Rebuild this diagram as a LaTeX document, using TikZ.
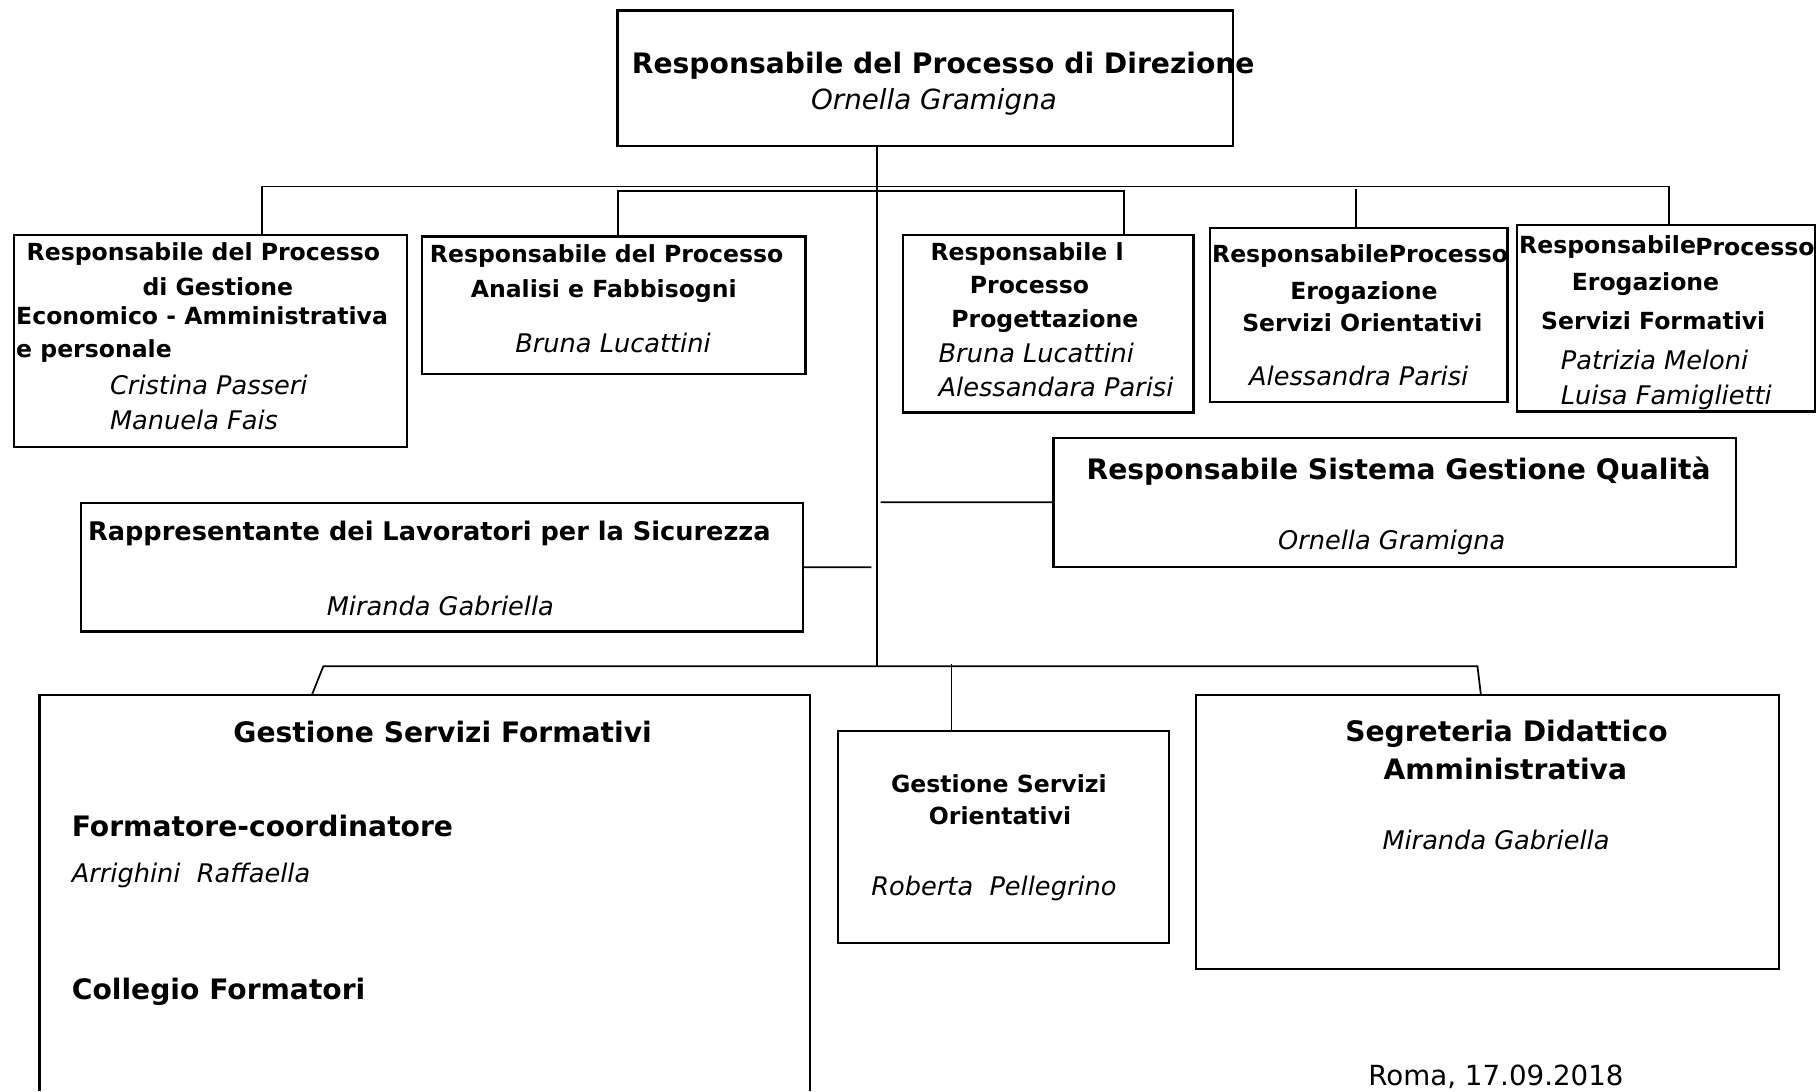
\documentclass[tikz,border=0pt]{standalone}
\usepackage{fontspec}
\setmainfont{DejaVu Sans}
\begin{document}
\begin{tikzpicture}[x=0.5bp,y=-0.5bp,
  box/.style={draw,line width=1bp,rectangle,inner sep=0pt,outer sep=0pt,anchor=north west},
  openbox/.style={rectangle,inner sep=0pt,outer sep=0pt,anchor=north west},
  conn/.style={line width=0.75bp},
  txt/.style={inner sep=0pt,outer sep=0pt,yshift=-1bp},
  sb/.style={txt,font=\fontsize{10.2}{12}\selectfont\bfseries},
  si/.style={txt,font=\fontsize{11.1}{13}\selectfont\itshape},
  mb/.style={txt,font=\fontsize{11.1}{13}\selectfont\bfseries},
  lb/.style={txt,font=\fontsize{12.2}{14}\selectfont\bfseries},
  li/.style={txt,font=\fontsize{12}{14}\selectfont\itshape},
  lr/.style={txt,font=\fontsize{12}{14}\selectfont}
]
\useasboundingbox (0,0) rectangle (1568,941.5);

% boxes
\node[box,minimum width=265.5bp,minimum height=58.5bp] (top) at (533,9) {};
\node[box,minimum width=169.5bp,minimum height=91.5bp] (b1) at (12,203) {};
\node[box,minimum width=165.5bp,minimum height=59.5bp] (b2) at (364,204) {};
\node[box,minimum width=125.5bp,minimum height=76.5bp] (b3) at (779,203) {};
\node[box,minimum width=128.5bp,minimum height=75bp] (b4) at (1044,197) {};
\node[box,minimum width=128.5bp,minimum height=80.5bp] (b5) at (1309,194) {};
\node[box,minimum width=294.5bp,minimum height=55.5bp] (q) at (909,378) {};
\node[box,minimum width=311.5bp,minimum height=55.5bp] (r) at (70,434) {};
\node[openbox,minimum width=332.5bp,minimum height=170.75bp] (gsf) at (34,600) {};
\draw[line width=1bp] (gsf.south west) -- (gsf.north west) -- (gsf.north east) -- (gsf.south east);
\node[box,minimum width=143bp,minimum height=91.5bp] (gso) at (723,631) {};
\node[box,minimum width=251.5bp,minimum height=118bp] (sda) at (1032,600) {};

% connection points
\coordinate (jb) at (757,575);
\coordinate (bus1L) at (226,161);
\coordinate (bus1R) at (1440,161);
\coordinate (bus1M) at (1170,163);
\coordinate (bus2L) at (533,165);
\coordinate (bus2R) at (970,165);
\coordinate (qj) at (760,433.5);
\coordinate (rj) at (752,489.5);
\coordinate (bL) at (279,575);
\coordinate (bR) at (1275,575);
\coordinate (bM) at (821,573);

% connectors
\draw[conn] (top.south -| jb) -- (jb);
\draw[conn] (b1.north -| bus1L) -- (bus1L) -- (bus1R) -- (b5.north -| bus1R);
\draw[conn] (bus1M) -- (b4.north -| bus1M);
\draw[conn] (b2.north -| bus2L) -- (bus2L) -- (bus2R) -- (b3.north -| bus2R);
\draw[conn] (qj) -- (q.west);
\draw[conn] (r.east) -- (rj);
\draw[conn] (gsf.north -| 269,0) -- (bL) -- (bR) -- (sda.north -| 1278,0);
\draw[conn] (bM) -- (gso.north -| bM);

% texts: top
\node[lb] (t0a) at (814,55) {Responsabile del Processo di Direzione};
\node[li] (t0b) at (806,86) {Ornella Gramigna};

% box 1
\node[sb,anchor=mid west] (t1a) at (23,217) {Responsabile del Processo};
\node[sb] (t1b) at (188,245) {di Gestione};
\node[sb,anchor=mid west] (t1c) at (14,273) {Economico - Amministrativa};
\node[sb,anchor=mid west] (t1d) at (14,301) {e personale};
\node[si,anchor=mid west] (t1e) at (95,333) {Cristina Passeri};
\node[si,anchor=mid west] (t1f) at (95,363) {Manuela Fais};

% box 2
\node[sb,anchor=mid west] (t2a) at (371,219) {Responsabile del Processo};
\node[sb] (t2b) at (521,249) {Analisi e Fabbisogni};
\node[si] (t2c) at (529,294) {Bruna Lucattini};

% box 3
\node[sb,anchor=mid west] (t3a) at (803,217) {Responsabile l};
\node[sb,anchor=mid west] (t3b) at (837,246) {Processo};
\node[sb,anchor=mid west] (t3c) at (821,275) {Progettazione};
\node[si,anchor=mid west] (t3d) at (810,305) {Bruna Lucattini};
\node[si,anchor=mid west] (t3e) at (810,335) {Alessandara Parisi};

% box 4
\node[sb,anchor=mid west] (t4a) at (1046,219) {ResponsabileProcesso};
\node[sb] (t4b) at (1177,251) {Erogazione};
\node[sb,anchor=mid west] (t4c) at (1072,279) {Servizi Orientativi};
\node[si,anchor=mid west] (t4d) at (1078,325) {Alessandra Parisi};

% box 5
\node[sb,anchor=mid west] (t5a) at (1311,211) {Responsabile};
\node[sb,anchor=mid west] (t5b) at (1463,213) {Processo};
\node[sb] (t5c) at (1420,243) {Erogazione};
\node[sb,anchor=mid west] (t5d) at (1330,277) {Servizi Formativi};
\node[si,anchor=mid west] (t5e) at (1347,311) {Patrizia Meloni};
\node[si,anchor=mid west] (t5f) at (1347,342) {Luisa Famiglietti};

% RSGQ
\node[lb] (tqa) at (1207,405) {Responsabile Sistema Gestione Qualità};
\node[si] (tqb) at (1201,466) {Ornella Gramigna};

% RLS
\node[mb,anchor=mid west] (tra) at (76,459) {Rappresentante dei Lavoratori per la Sicurezza};
\node[si] (trb) at (380,521) {Miranda Gabriella};

% GSF
\node[lb] (tga) at (382,630) {Gestione Servizi Formativi};
\node[lb,anchor=mid west] (tgb) at (62,714) {Formatore-coordinatore};
\node[si,anchor=mid west] (tgc) at (62,754) {Arrighini\ \ Raffaella};
\node[lb,anchor=mid west] (tgd) at (62,855) {Collegio Formatori};

% GSO
\node[sb] (toa) at (862,674) {Gestione Servizi};
\node[sb] (tob) at (863,702) {Orientativi};
\node[si,anchor=mid west] (toc) at (752,765) {Roberta\ \ Pellegrino};

% SDA
\node[lb] (tsa) at (1300,631) {Segreteria Didattico};
\node[lb] (tsb) at (1299,662) {Amministrativa};
\node[si] (tsc) at (1291,723) {Miranda Gabriella};

% date
\node[lr] (date) at (1291,927) {Roma, 17.09.2018};
\end{tikzpicture}
\end{document}
